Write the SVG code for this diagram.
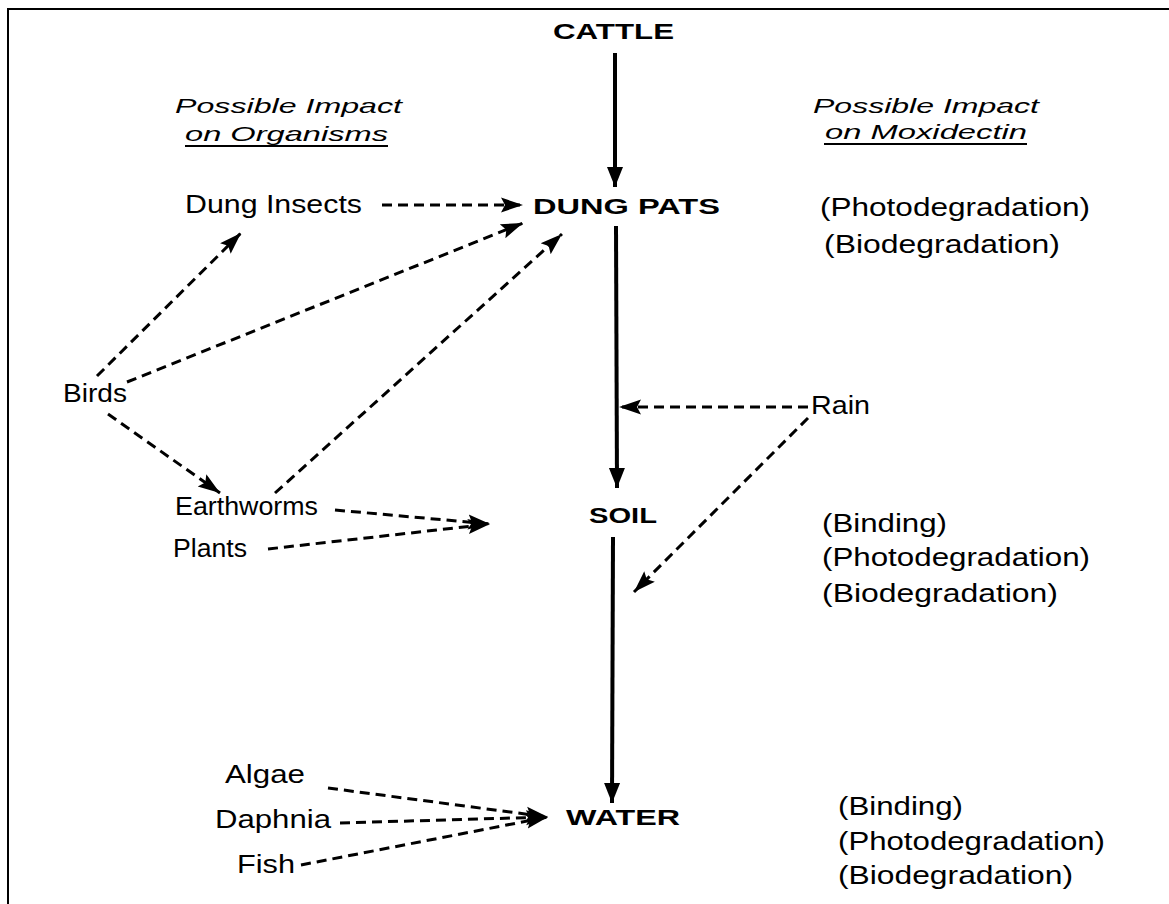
<svg xmlns="http://www.w3.org/2000/svg" width="1169" height="904" viewBox="0 0 1169 904">
<style>
.t{font-family:"Liberation Sans",Arial,sans-serif;font-size:25px;fill:#000}
.b{font-family:"Liberation Sans",Arial,sans-serif;font-size:22px;font-weight:bold;fill:#000}
.i{font-family:"Liberation Sans",Arial,sans-serif;font-size:21px;font-style:italic;fill:#000}
.solid{stroke:#000;stroke-width:4;fill:none}
.dash{stroke:#000;stroke-width:3;fill:none;stroke-dasharray:10 6}
.frame{stroke:#000;stroke-width:2;fill:none}
</style>
<defs>
<marker id="ah" markerUnits="userSpaceOnUse" markerWidth="24" markerHeight="18" refX="22" refY="9" orient="auto">
<polygon points="0,1.5 22,9 0,16.5 4,9" fill="#000"/>
</marker>
<marker id="ahs" markerUnits="userSpaceOnUse" markerWidth="22" markerHeight="18" refX="20" refY="9" orient="auto">
<polygon points="0,1 20,9 0,17" fill="#000"/>
</marker>
</defs>
<rect width="1169" height="904" fill="#fff"/>
<g id="frame">
<path class="frame" d="M8,904 V9 H1169"/>
</g>
<g id="connectors">
<line class="solid" x1="615" y1="53" x2="615" y2="187" marker-end="url(#ahs)"/>
<line class="solid" x1="616" y1="226" x2="617" y2="488" marker-end="url(#ahs)"/>
<line class="solid" x1="613" y1="537" x2="612" y2="803" marker-end="url(#ahs)"/>
<line class="dash" x1="382" y1="205" x2="523" y2="205" marker-end="url(#ah)"/>
<line class="dash" x1="97" y1="376" x2="241" y2="233" marker-end="url(#ah)"/>
<line class="dash" x1="127" y1="382" x2="523" y2="223" marker-end="url(#ah)"/>
<line class="dash" x1="275" y1="493" x2="562" y2="234" marker-end="url(#ah)"/>
<line class="dash" x1="108" y1="414" x2="220" y2="493" marker-end="url(#ah)"/>
<line class="dash" x1="335" y1="510" x2="490" y2="524" marker-end="url(#ah)"/>
<line class="dash" x1="268" y1="549" x2="490" y2="524" marker-end="url(#ah)"/>
<line class="dash" x1="808" y1="407" x2="619" y2="407" marker-end="url(#ah)"/>
<line class="dash" x1="808" y1="418" x2="634" y2="592" marker-end="url(#ah)"/>
<line class="dash" x1="328" y1="788" x2="548" y2="817" marker-end="url(#ah)"/>
<line class="dash" x1="340" y1="823" x2="548" y2="817" marker-end="url(#ah)"/>
<line class="dash" x1="301" y1="865" x2="548" y2="817" marker-end="url(#ah)"/>
</g>
<g id="cattle"><text class="b" x="553" y="39" textLength="121" lengthAdjust="spacingAndGlyphs">CATTLE</text></g>
<g id="dung-pats"><text class="b" x="533" y="214" textLength="187" lengthAdjust="spacingAndGlyphs">DUNG PATS</text></g>
<g id="soil"><text class="b" x="589" y="523" textLength="68" lengthAdjust="spacingAndGlyphs">SOIL</text></g>
<g id="water"><text class="b" x="566" y="825" textLength="114" lengthAdjust="spacingAndGlyphs">WATER</text></g>
<g id="heading-organisms">
<text class="i" x="175" y="113" textLength="227" lengthAdjust="spacingAndGlyphs">Possible Impact</text>
<text class="i" x="185" y="141" textLength="203" lengthAdjust="spacingAndGlyphs">on Organisms</text>
<line x1="185" y1="146" x2="388" y2="146" stroke="#000" stroke-width="2"/>
</g>
<g id="heading-moxidectin">
<text class="i" x="813" y="113" textLength="226" lengthAdjust="spacingAndGlyphs">Possible Impact</text>
<text class="i" x="825" y="139" textLength="202" lengthAdjust="spacingAndGlyphs">on Moxidectin</text>
<line x1="824" y1="144" x2="1027" y2="144" stroke="#000" stroke-width="2"/>
</g>
<g id="dung-insects"><text class="t" x="185" y="213" textLength="177" lengthAdjust="spacingAndGlyphs">Dung Insects</text></g>
<g id="birds"><text class="t" x="63" y="402" textLength="64" lengthAdjust="spacingAndGlyphs">Birds</text></g>
<g id="earthworms"><text class="t" x="175" y="515" textLength="143" lengthAdjust="spacingAndGlyphs">Earthworms</text></g>
<g id="plants"><text class="t" x="173" y="557" textLength="74" lengthAdjust="spacingAndGlyphs">Plants</text></g>
<g id="rain"><text class="t" x="811" y="414" textLength="59" lengthAdjust="spacingAndGlyphs">Rain</text></g>
<g id="algae"><text class="t" x="225" y="783" textLength="80" lengthAdjust="spacingAndGlyphs">Algae</text></g>
<g id="daphnia"><text class="t" x="215" y="828" textLength="116" lengthAdjust="spacingAndGlyphs">Daphnia</text></g>
<g id="fish"><text class="t" x="237" y="873" textLength="58" lengthAdjust="spacingAndGlyphs">Fish</text></g>
<g id="dung-pats-processes">
<text class="t" x="820" y="216" textLength="270" lengthAdjust="spacingAndGlyphs">(Photodegradation)</text>
<text class="t" x="824" y="253" textLength="236" lengthAdjust="spacingAndGlyphs">(Biodegradation)</text>
</g>
<g id="soil-processes">
<text class="t" x="822" y="532" textLength="125" lengthAdjust="spacingAndGlyphs">(Binding)</text>
<text class="t" x="822" y="566" textLength="268" lengthAdjust="spacingAndGlyphs">(Photodegradation)</text>
<text class="t" x="822" y="602" textLength="236" lengthAdjust="spacingAndGlyphs">(Biodegradation)</text>
</g>
<g id="water-processes">
<text class="t" x="838" y="815" textLength="125" lengthAdjust="spacingAndGlyphs">(Binding)</text>
<text class="t" x="838" y="850" textLength="267" lengthAdjust="spacingAndGlyphs">(Photodegradation)</text>
<text class="t" x="838" y="884" textLength="235" lengthAdjust="spacingAndGlyphs">(Biodegradation)</text>
</g>
</svg>
